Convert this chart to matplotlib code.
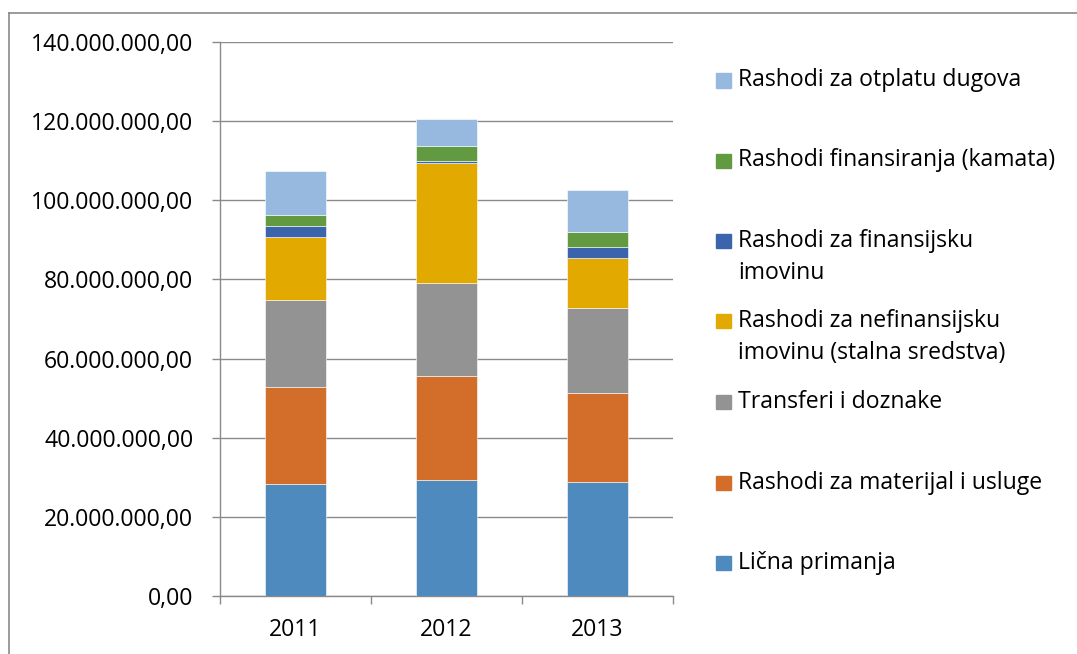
# Stacked expenditure chart (rashodi) 2011-2013

import numpy as np
import matplotlib.pyplot as plt
from matplotlib.patches import Rectangle
from matplotlib.lines import Line2D

years = ["2011", "2012", "2013"]

# values in millions, bottom of the stack first
licna_primanja = [28.2, 29.4, 28.9]
materijal_usluge = [24.6, 26.2, 22.4]
transferi_doznake = [22.1, 23.4, 21.6]
nefinansijska_imovina = [15.8, 30.3, 12.5]
finansijska_imovina = [2.9, 0.7, 2.8]
kamata = [2.7, 3.8, 3.7]
otplata_dugova = [11.2, 6.7, 10.7]

labels = [
    "Lična primanja",
    "Rashodi za materijal i usluge",
    "Transferi i doznake",
    "Rashodi za nefinansijsku\nimovinu (stalna sredstva)",
    "Rashodi za finansijsku\nimovinu",
    "Rashodi finansiranja (kamata)",
    "Rashodi za otplatu dugova",
]
colors = ["#4E8ABE", "#D36E2A", "#939393", "#E2A900", "#3C64AD", "#629A41", "#97B9E0"]

W, H = 1077, 654
FONT = "Open Sans"
FS = 16.6


def main():
    series = [licna_primanja, materijal_usluge, transferi_doznake,
              nefinansijska_imovina, finansijska_imovina, kamata, otplata_dugova]

    fig = plt.figure(figsize=(W / 100, H / 100), dpi=100)
    ax = fig.add_axes([220 / W, 1 - 596 / H, 453 / W, 554 / H])

    x = np.arange(len(years))
    bottom = np.zeros(len(years))
    for vals, col in zip(series, colors):
        v = np.array(vals) * 1e6
        ax.bar(x, v, width=0.4, bottom=bottom, color=col, edgecolor="#ffffff",
               linewidth=0.4, zorder=3)
        bottom += v

    ax.set_xlim(-0.5, 2.5)
    ax.set_ylim(0, 140e6)
    ax.set_yticks(np.arange(0, 140e6 + 1, 20e6))
    ax.set_yticklabels([f"{t:,.2f}".replace(",", " ").replace(".", ",").replace(" ", ".")
                        for t in ax.get_yticks()], fontsize=FS, family=FONT)
    ax.grid(axis="y", color="#8a8a8a", linewidth=1, zorder=0)

    # category labels + boundary ticks
    ax.set_xticks(x)
    ax.set_xticklabels(years, fontsize=FS, family=FONT)
    ax.tick_params(axis="x", length=0, pad=16)
    ax.set_xticks([-0.5, 0.5, 1.5, 2.5], minor=True)
    ax.tick_params(axis="x", which="minor", length=5.8, color="#8a8a8a", width=1)
    ax.tick_params(axis="y", length=5.8, color="#8a8a8a", width=1, pad=13.5)

    for s in ["top", "right"]:
        ax.spines[s].set_visible(False)
    for s in ["left", "bottom"]:
        ax.spines[s].set_color("#8a8a8a")
        ax.spines[s].set_linewidth(1)

    # legend, top entry first
    rows = [80.5, 160.5, 241, 321, 402, 483, 563]
    for lab, col, y in zip(labels[::-1], colors[::-1], rows):
        fig.patches.append(Rectangle((716 / W, 1 - (y + 7) / H), 15 / W, 14 / H,
                                     transform=fig.transFigure, color=col))
        for i, line in enumerate(lab.split("\n")):
            fig.text(738 / W, 1 - (y + 32 * i) / H, line, fontsize=FS, family=FONT,
                     va="center", ha="left")

    # chart area border (only left and top are inside the picture)
    fig.lines.append(Line2D([8.5 / W, 8.5 / W], [0, 1 - 12.5 / H], transform=fig.transFigure,
                            color="#8a8a8a", linewidth=1.2))
    fig.lines.append(Line2D([8.5 / W, 1], [1 - 12.5 / H, 1 - 12.5 / H], transform=fig.transFigure,
                            color="#8a8a8a", linewidth=1.2))

    fig.savefig("out.png", dpi=100)


if __name__ == "__main__":
    main()
